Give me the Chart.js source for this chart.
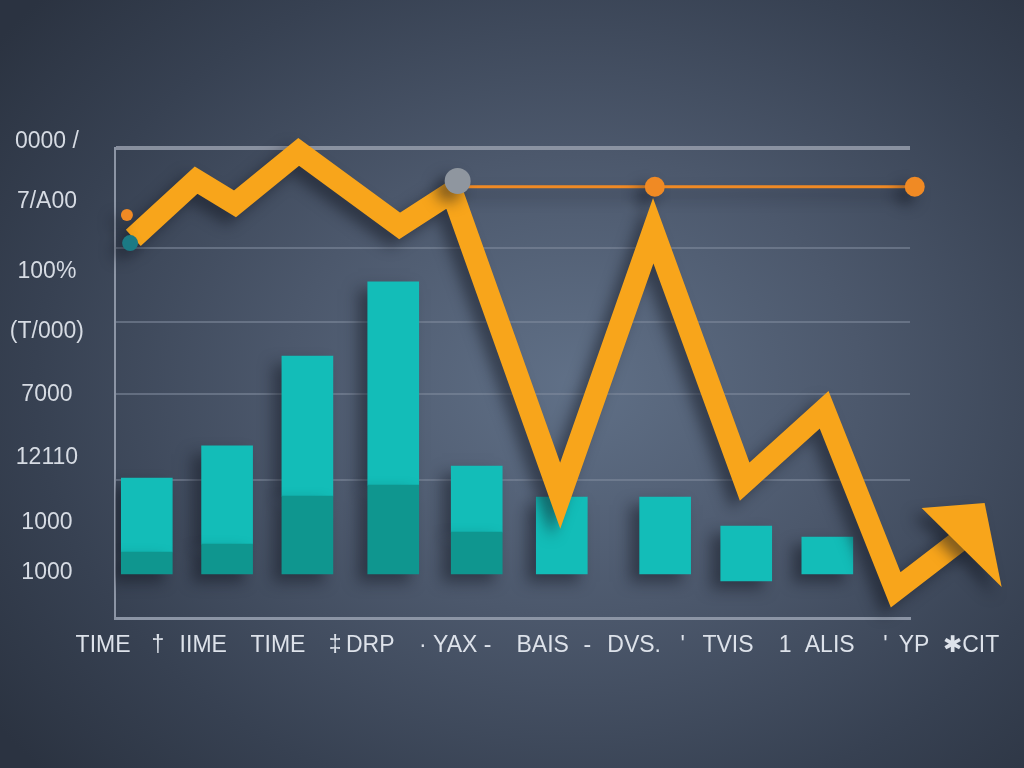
<!DOCTYPE html>
<html>
<head>
<meta charset="utf-8">
<script src="https://cdn.jsdelivr.net/npm/chart.js@4"></script>
<style>
  html, body { margin: 0; padding: 0; }
  body {
    width: 1024px; height: 768px; overflow: hidden;
    background: radial-gradient(ellipse 70% 75% at 56% 50%, #607087 0%, #4c586c 40%, #374152 75%, #2b3341 100%);
  }
  canvas { display: block; }
</style>
</head>
<body>
<canvas id="trendChart" width="1024" height="768"></canvas>
<script>
// bars (x in axis units, y in value units)
const barX     = [0.40, 1.41, 2.42, 3.50, 4.55, 5.62, 6.92, 7.94, 8.96];
const barBase  = [0, 0, 0, 0, 0, 0, 0, -1.6, 0];
const barLower = [5.0, 6.8, 17.7, 20.2, 9.5, null, null, null, null];
const barTop   = [21.8, 29.1, 49.5, 66.4, 24.5, 17.5, 17.5, 10.9, 8.4];

// orange trend line (last point carries the arrow head)
const lineX = [0.23, 1.02, 1.51, 2.31, 3.58, 4.24, 5.60, 6.77, 7.92, 8.92, 9.82, 10.75];
const lineY = [76.4, 89.5, 84.1, 95.9, 79.1, 86.8, 17.8, 78.0, 21.0, 37.3, -3.6, 9.3];

// thin reference line
const refX = [4.31, 6.79, 10.06];
const refY = [88, 88, 88];

// loose dots
const dotX = [0.15, 0.19, 4.31];
const dotY = [81.6, 75.2, 89.3];

// axis ticks
const xTickPos    = [-0.15, 0.54, 1.11, 2.05, 2.77, 3.21, 4.28, 5.38, 5.94, 6.53, 7.14, 7.71, 8.43, 8.99, 9.69, 10.05, 10.77];
const xTickLabels = ['TIME', '†', 'IIME', 'TIME', '‡', 'DRP', '· YAX -', 'BAIS', '-', 'DVS.', '\'', 'TVIS', '1', 'ALIS', '\'', 'YP', '✱CIT'];
const yTickPos    = [98.2, 84.5, 68.6, 55.0, 40.7, 26.4, 11.6, 0.2];
const yTickLabels = ['0000 /', '7/A00', '100%', '(T/000)', '7000', '12110', '1000', '1000'];
const gridPos     = [96.8, 74.1, 57.3, 40.9, 21.4];

const teal = '#13bdb8';
const tealDark = '#0f968f';
const orange = '#f8a51b';

Chart.defaults.font.family = "'Liberation Sans', Arial, sans-serif";

// soft drop shadow under every dataset, plus the arrow head on the trend line
const shadowPlugin = {
  id: 'shadow',
  beforeDatasetDraw(chart, args) {
    const ctx = chart.ctx;
    ctx.save();
    ctx.shadowColor = 'rgba(18, 22, 32, 0.5)';
    ctx.shadowBlur = 14;
    ctx.shadowOffsetX = -9;
    ctx.shadowOffsetY = 8;
  },
  afterDatasetDraw(chart, args) {
    const ctx = chart.ctx;
    if (args.meta.label === 'trend') {
      const pts = args.meta.data;
      const tip = pts[pts.length - 1];
      ctx.beginPath();
      ctx.moveTo(tip.x - 48, tip.y - 25);
      ctx.lineTo(tip.x + 15, tip.y - 30);
      ctx.lineTo(tip.x + 32, tip.y + 54);
      ctx.closePath();
      ctx.fillStyle = orange;
      ctx.fill();
    }
    ctx.restore();
  }
};

const trendChart = document.getElementById('trendChart');

new Chart(trendChart, {
  type: 'bar',
  data: {
    datasets: [
      {
        type: 'scatter',
        label: 'dots',
        data: dotX.map((x, i) => ({x: x, y: dotY[i]})),
        pointRadius: [6, 8, 13],
        pointBackgroundColor: ['#f08a24', '#1b7a84', '#8f969f'],
        pointBorderWidth: 0,
        clip: false,
        order: 1
      },
      {
        type: 'line',
        label: 'trend',
        data: lineX.map((x, i) => ({x: x, y: lineY[i]})),
        borderColor: orange,
        borderWidth: 22,
        borderJoinStyle: 'miter',
        tension: 0,
        pointRadius: 0,
        clip: false,
        order: 2
      },
      {
        type: 'line',
        label: 'reference',
        data: refX.map((x, i) => ({x: x, y: refY[i]})),
        borderColor: '#f08a24',
        borderWidth: 3,
        pointRadius: ctx => ctx.dataIndex === 0 ? 0 : 10,
        pointBackgroundColor: '#f08a24',
        pointBorderWidth: 0,
        clip: false,
        order: 3
      },
      {
        label: 'lower',
        data: barX.map((x, i) => ({x: x, y: barLower[i] === null ? null : [barBase[i], barLower[i]]})),
        backgroundColor: tealDark,
        barThickness: 51,
        grouped: false,
        order: 4
      },
      {
        label: 'upper',
        data: barX.map((x, i) => ({x: x, y: [barLower[i] === null ? barBase[i] : barLower[i], barTop[i]]})),
        backgroundColor: teal,
        barThickness: 51,
        grouped: false,
        order: 5
      }
    ]
  },
  options: {
    responsive: false,
    animation: false,
    devicePixelRatio: 1,
    layout: {
      padding: {top: 148, right: 114, left: 0, bottom: 0}
    },
    plugins: {
      legend: {display: false},
      tooltip: {enabled: false}
    },
    scales: {
      x: {
        type: 'linear',
        offset: false,
        min: 0,
        max: 10,
        afterBuildTicks: scale => { scale.ticks = xTickPos.map(v => ({value: v})); },
        afterFit: scale => { scale.height = 150; },
        grid: {display: false, drawTicks: false},
        border: {display: true, color: '#8c95a5', width: 3},
        ticks: {
          autoSkip: false,
          maxRotation: 0,
          padding: 14,
          color: '#dde2ea',
          font: {size: 23},
          callback: (value, index) => xTickLabels[index]
        }
      },
      y: {
        min: -10,
        max: 96.8,
        afterBuildTicks: scale => {
          scale.ticks = yTickPos.map(v => ({value: v})).concat(gridPos.map(v => ({value: v})));
        },
        afterFit: scale => { scale.width = 115; },
        grid: {
          drawTicks: false,
          color: ctx => ctx.index < yTickPos.length ? 'rgba(0,0,0,0)'
            : (ctx.index === yTickPos.length ? 'rgba(150,158,172,0.85)' : 'rgba(130,140,158,0.55)'),
          lineWidth: ctx => ctx.index === yTickPos.length ? 4 : 2
        },
        border: {display: true, color: '#8c95a5', width: 2},
        ticks: {
          autoSkip: false,
          crossAlign: 'center',
          padding: 31,
          color: '#d6dbe3',
          font: {size: 23},
          callback: (value, index) => index < yTickLabels.length ? yTickLabels[index] : ''
        }
      }
    }
  },
  plugins: [shadowPlugin]
});
</script>
</body>
</html>
